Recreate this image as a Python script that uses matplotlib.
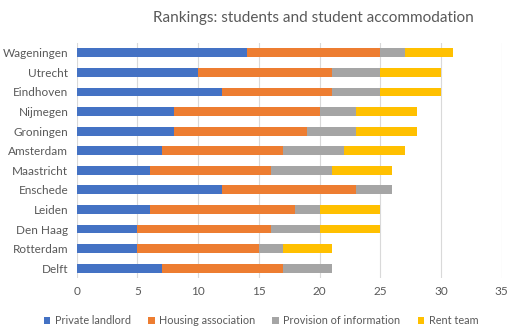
import matplotlib.pyplot as plt
import numpy as np

plt.rcParams['font.family'] = ['Lato', 'DejaVu Sans']

cities = ['Wageningen', 'Utrecht', 'Eindhoven', 'Nijmegen', 'Groningen', 'Amsterdam',
          'Maastricht', 'Enschede', 'Leiden', 'Den Haag', 'Rotterdam', 'Delft']
private_landlord = [14, 10, 12, 8, 8, 7, 6, 12, 6, 5, 5, 7]
housing_association = [11, 11, 9, 12, 11, 10, 10, 11, 12, 11, 10, 10]
provision_info = [2, 4, 4, 3, 4, 5, 5, 3, 2, 4, 2, 4]
rent_team = [4, 5, 5, 5, 5, 5, 5, 0, 5, 5, 4, 0]

series = [
    ('Private landlord', private_landlord, '#4472c4'),
    ('Housing association', housing_association, '#ed7d31'),
    ('Provision of information', provision_info, '#a5a5a5'),
    ('Rent team', rent_team, '#ffc000'),
]

fig = plt.figure(figsize=(5.13, 3.32), dpi=100)
ax = fig.add_axes([76.7 / 513, 54 / 332, 425 / 513, 235 / 332])

y = np.arange(len(cities))[::-1]
left = np.zeros(len(cities))
for name, vals, color in series:
    vals = np.array(vals, dtype=float)
    ax.barh(y, vals, left=left, height=0.45, color=color, label=name, zorder=3)
    left += vals

ax.set_xlim(0, 35)
ax.set_ylim(-0.5, len(cities) - 0.5)
ax.set_xticks(range(0, 36, 5))
ax.set_yticks(y)
ax.set_yticklabels(cities)
ax.grid(axis='x', color='#d9d9d9', linewidth=0.8, zorder=0)
for s in ax.spines.values():
    s.set_visible(False)
ax.tick_params(length=0, labelsize=8.5, colors='#595959', pad=6)

fig.text(313 / 513, 1 - 18 / 332, 'Rankings: students and student accommodation',
         ha='center', va='center', fontsize=11, color='#595959')

fig.legend(loc='center', bbox_to_anchor=(261 / 513, 1 - 321 / 332), ncol=4, frameon=False,
           fontsize=7.8, handlelength=0.6, handleheight=0.6, handletextpad=0.4,
           columnspacing=1.6, labelcolor='#595959')

fig.savefig('out.png', dpi=100)
